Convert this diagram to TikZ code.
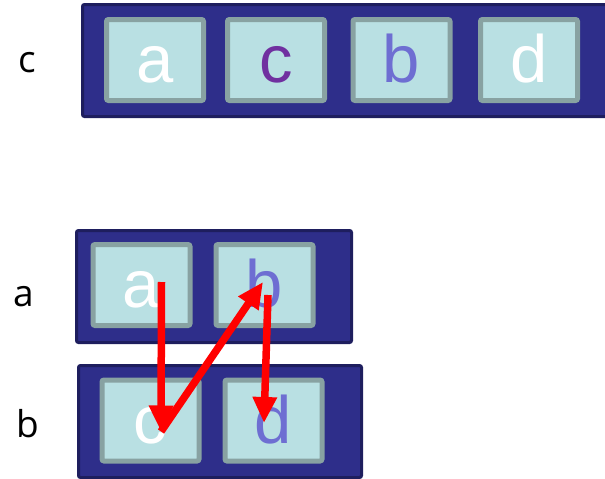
\documentclass[tikz,border=0pt]{standalone}
\usepackage{fontspec}
\setmainfont{Liberation Sans}
\newfontfamily\labelfont{Open Sans}
\usetikzlibrary{positioning,arrows.meta}
\definecolor{arrfill}{RGB}{46,46,138}
\definecolor{arrline}{RGB}{30,30,94}
\definecolor{cellfill}{RGB}{185,224,227}
\definecolor{cellline}{RGB}{136,162,162}
\definecolor{purpletxt}{RGB}{112,48,160}
\definecolor{bluetxt}{RGB}{110,110,210}
\begin{document}
\begin{tikzpicture}[x=1pt, y=-1pt, node distance=123pt,
        arr/.style={rectangle, draw=arrline, fill=arrfill, line width=3pt, rounded corners=2pt, minimum width=#1, minimum height=112pt},
        cell/.style={rectangle, draw=cellline, fill=cellfill, line width=5pt, rounded corners=2pt, minimum width=97pt, minimum height=81pt, inner sep=0pt, font=\fontsize{67}{67}\selectfont, text height=50pt, text depth=5pt},
        lbl/.style={font=\labelfont\fontsize{37}{37}\selectfont, text height=21pt, text depth=0pt, inner sep=0pt},
        move/.style={draw=red, line width=7.5pt, -{Triangle[length=26pt,width=23pt]}}]
    \useasboundingbox (0,0) rectangle (605,479);
    % top: result array
    \node[arr=536pt] (arrc) at (350.5,60.5) {};
    \node[cell, text=white] (ca) at (155,60) {a};
    \node[cell, text=purpletxt, right of=ca, node distance=121pt] (cc) {c};
    \node[cell, text=bluetxt, right of=cc, node distance=125.5pt] (cb) {b};
    \node[cell, text=white, right of=cb, node distance=127.5pt] (cd) {d};
    \node[lbl] (lc) at (27,61.5) {c};
    % bottom: the two input arrays
    \node[arr=275pt] (arra) at (214,286.5) {};
    \node[cell, text=white] (ba) at (141.5,285) {a};
    \node[cell, text=bluetxt, right of=ba] (bb) {b};
    \node[lbl] (la) at (24,295.5) {a};
    \node[arr=283pt] (arrb) at (220,421.5) {};
    \node[cell, text=white] (bc) at (150.5,420.5) {c};
    \node[cell, text=bluetxt, right of=bc] (bd) {d};
    \node[lbl] (lb) at (27.5,426.5) {b};
    \draw[move] ([xshift=20pt,yshift=3pt]ba.center) -- ([xshift=10.5pt,yshift=-11pt]bc.center);
    \draw[move] ([xshift=10.5pt,yshift=-11pt]bc.center) -- ([xshift=-1.5pt,yshift=3pt]bb.center);
    \draw[move] ([xshift=3.5pt,yshift=-10pt]bb.center) -- ([xshift=-9.5pt,yshift=-2.5pt]bd.center);
\end{tikzpicture}
\end{document}
